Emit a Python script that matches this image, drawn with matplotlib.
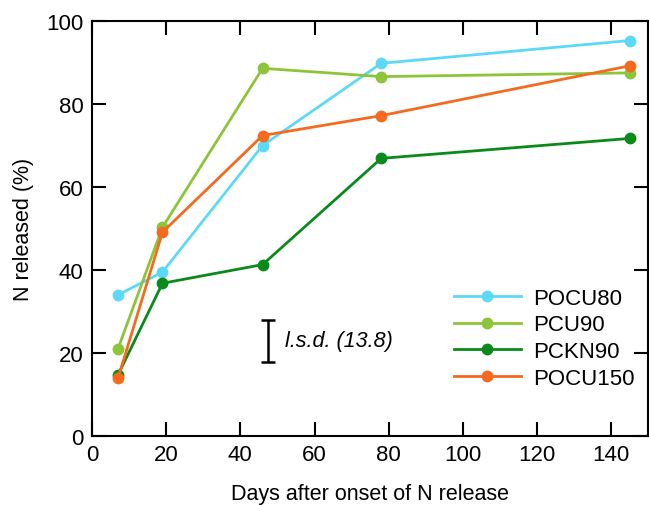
import numpy as np
import matplotlib.pyplot as plt

plt.rcParams['font.family'] = ['Liberation Sans', 'DejaVu Sans']

# Days after onset of N release
days = [7, 19, 46, 78, 145]

# N released (%)
pocu80 = [34.0, 39.5, 70.0, 89.8, 95.3]
pcu90 = [21.0, 50.3, 88.6, 86.6, 87.5]
pckn90 = [14.7, 36.8, 41.3, 66.9, 71.7]
pocu150 = [13.9, 49.1, 72.4, 77.2, 89.2]

series = [
    ('POCU80', pocu80, '#5DD9F7'),
    ('PCU90', pcu90, '#8CC43A'),
    ('PCKN90', pckn90, '#0B8A1C'),
    ('POCU150', pocu150, '#F46A1E'),
]

# l.s.d. bar
lsd_x = 47.5
lsd_lo, lsd_hi = 17.9, 28.0

fig = plt.figure(figsize=(6.49, 5.06), dpi=100)
ax = fig.add_axes([0.1418, 0.1364, 0.857, 0.8201])

for name, vals, col in series:
    ax.plot(days, vals, '-o', color=col, lw=2.0, ms=7.5, label=name)

ax.errorbar([lsd_x], [(lsd_lo + lsd_hi) / 2], yerr=[(lsd_hi - lsd_lo) / 2],
            fmt='none', ecolor='black', elinewidth=1.8, capsize=5, capthick=1.8)
ax.text(lsd_x + 4.5, (lsd_lo + lsd_hi) / 2, 'l.s.d. (13.8)', style='italic',
        fontsize=15.5, va='center', ha='left')

ax.set_xlim(0, 150)
ax.set_ylim(0, 100)
ax.set_xticks(np.arange(0, 141, 20))
ax.set_yticks(np.arange(0, 101, 20))
ax.tick_params(direction='in', length=10, width=1.5, top=True, right=True,
               labelsize=16, pad=6)
for s in ax.spines.values():
    s.set_linewidth(1.5)

ax.set_xlabel('Days after onset of N release', fontsize=15.5, labelpad=13)
ax.set_ylabel('N released (%)', fontsize=15.5, labelpad=9)

ax.legend(loc='upper left', bbox_to_anchor=(0.615, 0.405), frameon=False,
          fontsize=16, handlelength=3.0, handletextpad=0.55, labelspacing=0.25)

fig.savefig('out.png', dpi=100)
